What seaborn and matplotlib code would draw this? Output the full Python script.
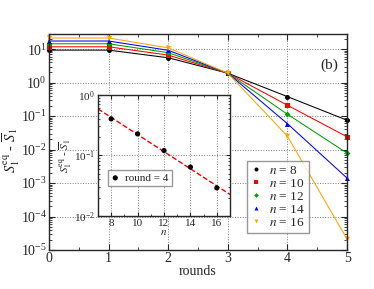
import numpy as np
import pandas as pd
import matplotlib
matplotlib.use('Agg')
import matplotlib.pyplot as plt
import seaborn as sns
from matplotlib.ticker import LogLocator, NullFormatter

rounds = [0, 1, 2, 3, 4, 5]
n_values = [8, 10, 12, 14, 16]
gap_n8 = [9.3, 9.3, 5.5, 1.9, 0.38, 0.075]
gap_n10 = [11.7, 11.7, 6.6, 1.9, 0.21, 0.024]
gap_n12 = [14.4, 14.4, 7.8, 1.9, 0.113, 0.0078]
gap_n14 = [17.4, 17.4, 9.2, 1.9, 0.059, 0.0014]
gap_n16 = [21.4, 21.4, 10.9, 1.9, 0.025, 2.1e-5]
inset_gap = [0.40, 0.226, 0.12, 0.064, 0.029]

colors = ['black', 'red', '#00a000', 'blue', 'orange']
markers = ['o', 's', 'D', '^', 'v']
series = [gap_n8, gap_n10, gap_n12, gap_n14, gap_n16]

sns.set_style('ticks')
plt.rcParams['font.family'] = ['Liberation Serif', 'DejaVu Serif']
plt.rcParams['mathtext.fontset'] = 'stix'
plt.rcParams['axes.unicode_minus'] = False

fig = plt.figure(figsize=(3.74, 2.89), dpi=100)
ax = fig.add_axes([0.131, 0.135, 0.797, 0.747])

for n, vals, c, m in zip(n_values, series, colors, markers):
    df = pd.DataFrame({'round': rounds, 'gap': vals})
    sns.lineplot(data=df, x='round', y='gap', ax=ax, color=c, marker=m,
                 markersize=3.6 if m != 'D' else 3.0, markeredgewidth=0, linewidth=0.75,
                 label=r'$n$ = %d' % n, clip_on=False)

ax.set_yscale('log')
ax.set_xlim(0, 5)
ax.set_ylim(1e-5, 28)
ax.set_xticks(rounds)
ax.yaxis.set_major_locator(LogLocator(base=10, numticks=10))
ax.yaxis.set_minor_locator(LogLocator(base=10, subs=np.arange(2, 10), numticks=10))
ax.yaxis.set_minor_formatter(NullFormatter())
ax.xaxis.set_minor_locator(matplotlib.ticker.MultipleLocator(0.5))
ax.tick_params(which='both', direction='in', top=True, right=True, labelsize=10)
ax.tick_params(which='major', length=4, pad=1.5)
ax.tick_params(which='minor', length=2)
ax.grid(True, which='major', linestyle=':', color='gray', linewidth=0.7)
ax.set_xlabel('rounds', fontsize=10)
ax.xaxis.set_label_coords(0.5, -0.068)
ax.set_ylabel(r'$S_1^{\rm eq}$ - $\overline{S}_1$', fontsize=10.5)
ax.yaxis.set_label_coords(-0.092, 0.46)
for sp in ax.spines.values():
    sp.set_linewidth(1.0)
ax.text(4.55, 2.6, '(b)', fontsize=11)
leg = ax.legend(loc='lower right', bbox_to_anchor=(0.895, 0.05), fontsize=9.5,
                frameon=True, fancybox=False, edgecolor='gray', handlelength=0.8,
                handletextpad=0.6, borderpad=0.3, labelspacing=0.05, markerscale=0.8)
leg.get_frame().set_linewidth(1.0)
for h in leg.legend_handles:
    h.set_linestyle('None')

# inset
axi = fig.add_axes([0.262, 0.253, 0.353, 0.419])
dfi = pd.DataFrame({'n': n_values, 'gap': inset_gap})
coef = np.polyfit(dfi['n'], np.log10(dfi['gap']), 1)
xfit = np.array([7, 17])
sns.lineplot(x=xfit, y=10 ** np.polyval(coef, xfit), ax=axi, color='red',
             linestyle='--', linewidth=1.0)
sns.scatterplot(data=dfi, x='n', y='gap', ax=axi, color='black', s=14,
                edgecolor='none', label='round = 4', zorder=3)
axi.set_yscale('log')
axi.set_xlim(7, 17)
axi.set_ylim(1e-2, 1)
axi.set_xticks(n_values)
axi.yaxis.set_minor_locator(LogLocator(base=10, subs=np.arange(2, 10), numticks=10))
axi.yaxis.set_minor_formatter(NullFormatter())
axi.xaxis.set_minor_locator(matplotlib.ticker.MultipleLocator(1))
axi.tick_params(which='both', direction='in', top=True, right=True, labelsize=8)
axi.tick_params(which='major', length=3, pad=2)
axi.tick_params(which='minor', length=1.5)
axi.grid(True, which='major', linestyle=':', color='gray', linewidth=0.7)
axi.set_xlabel(r'$n$', fontsize=8, labelpad=0)
axi.set_ylabel(r'$S_1^{\rm eq}$ - $\overline{S}_1$', fontsize=8, labelpad=0)
for sp in axi.spines.values():
    sp.set_linewidth(1.0)
legi = axi.legend(loc='lower left', bbox_to_anchor=(0.03, 0.2), fontsize=8,
                  frameon=True, fancybox=False, edgecolor='gray', handlelength=0.8,
                  handletextpad=0.5, borderpad=0.3)
legi.get_frame().set_linewidth(1.0)

fig.savefig('out.png', dpi=100)
